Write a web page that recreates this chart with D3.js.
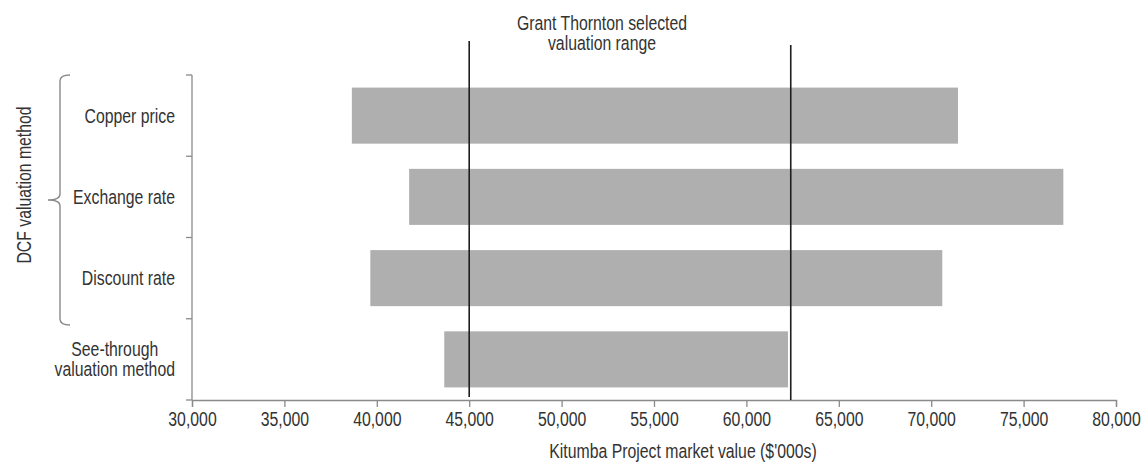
<!DOCTYPE html>
<html>
<head>
<meta charset="utf-8">
<script src="https://cdn.jsdelivr.net/npm/d3@7"></script>
<style>
  body { margin: 0; background: #fff; }
  svg { display: block; }
</style>
</head>
<body>
<svg id="chart" width="1144" height="462"></svg>
<script>
// Sensitivity of the Kitumba Project market value ($'000s)
const categories = ["Copper price", "Exchange rate", "Discount rate", "See-through\nvaluation method"];
const lowValues  = [38650, 41750, 39650, 43650];
const highValues = [71450, 77150, 70600, 62250];
const selectedRange = [45000, 62400];
const xTicks = [30000, 35000, 40000, 45000, 50000, 55000, 60000, 65000, 70000, 75000, 80000];
const xDomain = [30000, 80000];

const titleLines = ["Grant Thornton selected", "valuation range"];
const xTitle = "Kitumba Project market value ($'000s)";
const groupTitle = "DCF valuation method";

const svg = d3.select("#chart");
const plot = { left: 192, right: 1116, top: 75, bottom: 400 };
const TEXT = "#333333";
const AXIS = "#8a8a8a";
const FONT_SIZE = 19.3;

// Pick a condensed face; fall back to horizontally squeezed Liberation Sans.
function measure(family) {
  const t = svg.append("text").attr("font-family", family).attr("font-size", FONT_SIZE)
    .text("Grant Thornton selected");
  const w = t.node().getComputedTextLength();
  t.remove();
  return w;
}
const narrowAvailable = measure("'Liberation Sans Narrow'") < 0.9 * measure("'Liberation Sans'");
const FONT = narrowAvailable ? "'Liberation Sans Narrow', 'Arial Narrow', sans-serif" : "'Liberation Sans', Arial, sans-serif";
const SQUEEZE = narrowAvailable ? 1 : 0.82;

const x = d3.scaleLinear().domain(xDomain).range([plot.left, plot.right]);
const y = d3.scaleBand().domain(categories).range([plot.top, plot.bottom])
  .paddingInner(0.31).paddingOuter(0.155);

// Bars
svg.append("g").selectAll("rect")
  .data(categories)
  .join("rect")
  .attr("x", (d, i) => x(lowValues[i]))
  .attr("y", d => y(d))
  .attr("width", (d, i) => x(highValues[i]) - x(lowValues[i]))
  .attr("height", y.bandwidth())
  .attr("fill", "#afafaf");

// X axis
const xAxis = svg.append("g")
  .attr("transform", `translate(0,${plot.bottom})`)
  .call(d3.axisBottom(x).tickValues(xTicks).tickFormat(d3.format(",")).tickSizeOuter(0).tickSize(7).tickPadding(5));
xAxis.select(".domain").attr("stroke", AXIS).attr("stroke-width", 1.3);
xAxis.selectAll(".tick line").attr("stroke", AXIS).attr("stroke-width", 1.3);
xAxis.selectAll(".tick text").attr("fill", TEXT).attr("font-family", FONT).attr("font-size", FONT_SIZE);

// Y axis: vertical line with ticks on band boundaries
const step = y.step();
const edge = (step - y.bandwidth()) / 2;
const boundaries = categories.map(c => y(c) - edge).concat([y(categories[categories.length - 1]) + y.bandwidth() + edge]);
const yAxis = svg.append("g");
yAxis.append("line")
  .attr("x1", plot.left).attr("x2", plot.left)
  .attr("y1", boundaries[0]).attr("y2", boundaries[boundaries.length - 1])
  .attr("stroke", AXIS).attr("stroke-width", 1.3);
yAxis.selectAll("line.tick")
  .data(boundaries)
  .join("line")
  .attr("class", "tick")
  .attr("x1", plot.left - 6).attr("x2", plot.left)
  .attr("y1", d => d).attr("y2", d => d)
  .attr("stroke", AXIS).attr("stroke-width", 1.3);

// Category labels (multi-line labels centred over their widest line)
const labelRight = plot.left - 17;
const lineGap = 20;
categories.forEach(c => {
  const lines = c.split("\n");
  const t = yAxis.append("text")
    .attr("class", "cat")
    .attr("fill", TEXT).attr("font-family", FONT).attr("font-size", FONT_SIZE);
  const cy = y(c) + y.bandwidth() / 2;
  const firstBaseline = cy + 7 - (lines.length - 1) * lineGap / 2;
  lines.forEach((ln, i) => {
    t.append("tspan").attr("y", firstBaseline + i * lineGap).text(ln);
  });
  if (lines.length === 1) {
    t.attr("text-anchor", "end").attr("x", labelRight);
    t.selectAll("tspan").attr("x", labelRight);
  } else {
    const widest = d3.max(t.selectAll("tspan").nodes(), n => n.getComputedTextLength()) * SQUEEZE;
    const cx = labelRight - widest / 2;
    t.attr("text-anchor", "middle").attr("x", cx);
    t.selectAll("tspan").attr("x", cx);
  }
});

// Selected valuation range markers
const rangeTops = [41, 45];
const rangeBottoms = [397, 400];
svg.append("g").selectAll("line")
  .data(selectedRange)
  .join("line")
  .attr("x1", d => x(d)).attr("x2", d => x(d))
  .attr("y1", (d, i) => rangeTops[i]).attr("y2", (d, i) => rangeBottoms[i])
  .attr("stroke", "#1e1e1e").attr("stroke-width", 1.6);

// Range caption
const cap = svg.append("text")
  .attr("text-anchor", "middle")
  .attr("fill", TEXT).attr("font-family", FONT).attr("font-size", FONT_SIZE);
titleLines.forEach((ln, i) => {
  cap.append("tspan").attr("x", 602).attr("y", 30 + i * 20).text(ln);
});
cap.attr("x", 602);

// X axis title
svg.append("text")
  .attr("x", 683).attr("y", 458)
  .attr("text-anchor", "middle")
  .attr("fill", TEXT).attr("font-family", FONT).attr("font-size", FONT_SIZE)
  .text(xTitle);

// Brace grouping the DCF sensitivities
const bTop = boundaries[0], bBot = 325, bMid = 200;
svg.append("path")
  .attr("d", `M70,${bTop} Q60,${bTop} 60,${bTop + 6} L60,${bMid - 6} Q60,${bMid} 48,${bMid} Q60,${bMid} 60,${bMid + 6} L60,${bBot - 6} Q60,${bBot} 70,${bBot}`)
  .attr("fill", "none").attr("stroke", AXIS).attr("stroke-width", 1.4);

svg.append("text")
  .attr("transform", `translate(31,185) rotate(-90)`)
  .attr("text-anchor", "middle")
  .attr("fill", TEXT).attr("font-family", FONT).attr("font-size", FONT_SIZE)
  .text(groupTitle);

// Horizontal squeeze when only the regular face is installed
if (SQUEEZE !== 1) {
  svg.selectAll("text").each(function () {
    const el = d3.select(this);
    if (el.attr("transform") && el.attr("transform").includes("rotate")) {
      el.attr("transform", el.attr("transform") + ` scale(${SQUEEZE},1)`);
      return;
    }
    const px = +(el.attr("x") || 0);
    el.attr("transform", `translate(${px},0) scale(${SQUEEZE},1) translate(${-px},0)`);
  });
}
</script>
</body>
</html>
